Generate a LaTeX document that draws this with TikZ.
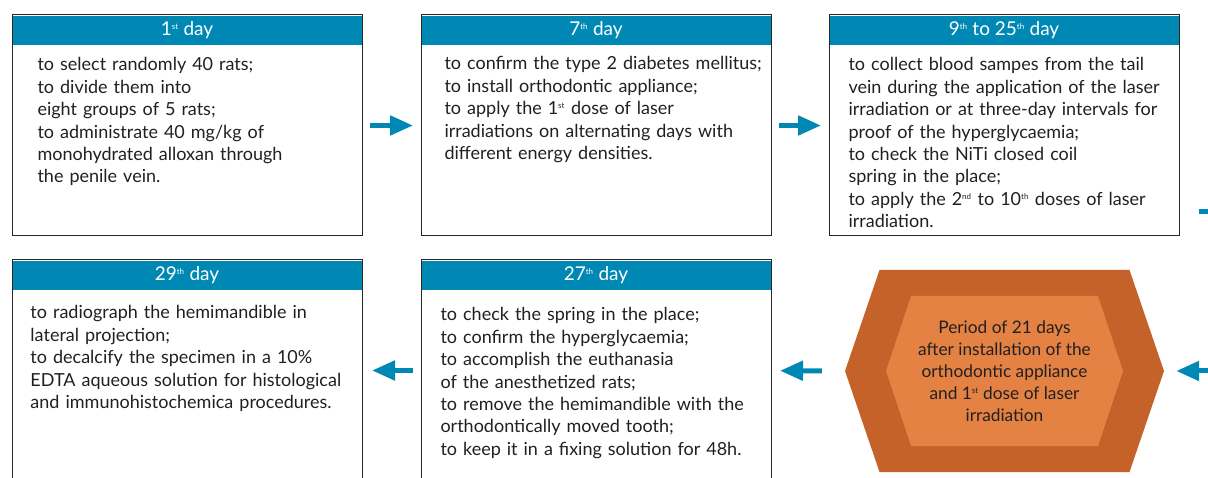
\documentclass[tikz,border=0pt]{standalone}
\usepackage{fontspec}
\setmainfont{Lato}
\usepackage{tikz}
\usetikzlibrary{positioning,arrows.meta,calc}
\definecolor{dayblue}{HTML}{0088B5}
\definecolor{hexout}{HTML}{C4622A}
\definecolor{hexin}{HTML}{E38243}
\definecolor{daytxt}{HTML}{231F20}
\newcommand{\ord}[1]{\textsuperscript{\fontsize{8}{8}\selectfont #1}}

\begin{document}
\begin{tikzpicture}[x=1pt, y=1pt,
  dayframe/.style={draw=black!85, line width=1pt, minimum width=350pt, minimum height=221pt, inner sep=0pt, outer sep=0pt},
  dayhead/.style={fill=dayblue, text=white, anchor=north, minimum width=349pt, minimum height=29pt, inner sep=0pt, font=\fontsize{19}{19}\selectfont},
  daytext/.style={anchor=base west, text width=400pt, align=left, inner sep=0pt, text=daytxt, font=\fontsize{18}{22.4}\selectfont},
  flow/.style={-{Triangle[length=23pt,width=19pt]}, color=dayblue, line width=5pt}
]
\useasboundingbox (0,0) rectangle (1208,-478);
\clip (0,0) rectangle (1208,-478);

% boxes
\node[dayframe] (d1) at (187,-125.5) {};
\node[dayframe, right=59pt of d1] (d2) {};
\node[dayframe, right=58pt of d2] (d3) {};
\node[dayframe] (d4) at (187,-370.5) {};
\node[dayframe, right=59pt of d4] (d5) {};

% headers
\node[dayhead, yshift=-0.5pt] (h1) at (d1.north) {1\ord{st} day};
\node[dayhead, yshift=-0.5pt] (h2) at (d2.north) {7\ord{th} day};
\node[dayhead, yshift=-0.5pt] (h3) at (d3.north) {9\ord{th} to 25\ord{th} day};
\node[dayhead, yshift=-0.5pt] (h4) at (d4.north) {29\ord{th} day};
\node[dayhead, yshift=-0.5pt] (h5) at (d5.north) {27\ord{th} day};

% texts
\node[daytext] (t1) at ($(h1.south west)+(25,-26)$) {to select randomly 40 rats;\\ to divide them into\\ eight groups of 5 rats;\\ to administrate 40 mg/kg of\\ monohydrated alloxan through\\ the penile vein.};
\node[daytext] (t2) at ($(h2.south west)+(23,-25)$) {to confirm the type 2 diabetes mellitus;\\ to install orthodontic appliance;\\ to apply the 1\ord{st} dose of laser\\ irradiations on alternating days with\\ different energy densities.};
\node[daytext] (t3) at ($(h3.south west)+(19,-26)$) {to collect blood sampes from the tail\\ vein during the application of the laser\\ irradiation or at three-day intervals for\\ proof of the hyperglycaemia;\\ to check the NiTi closed coil\\ spring in the place;\\ to apply the 2\ord{nd} to 10\ord{th} doses of laser\\ irradiation.};
\node[daytext] (t4) at ($(h4.south west)+(18,-29)$) {to radiograph the hemimandible in\\ lateral projection;\\ to decalcify the specimen in a 10\%\\ EDTA aqueous solution for histological\\ and immunohistochemica procedures.};
\node[daytext] (t5) at ($(h5.south west)+(19,-31)$) {to check the spring in the place;\\ to confirm the hyperglycaemia;\\ to accomplish the euthanasia\\ of the anesthetized rats;\\ to remove the hemimandible with the\\ orthodontically moved tooth;\\ to keep it in a fixing solution for 48h.};

% hexagon
\coordinate (hc) at (1004.5,-371);
\fill[hexout, shift={(hc)}] (-159.5,0) -- (-125,101) -- (125,101) -- (159.5,0) -- (125,-101) -- (-125,-101) -- cycle;
\fill[hexin, shift={(hc)}] (-118.5,0) -- (-93.5,75) -- (93.5,75) -- (118.5,0) -- (93.5,-75) -- (-93.5,-75) -- cycle;
\node[align=center, inner sep=0pt, minimum width=319pt, minimum height=202pt, text=daytxt, font=\fontsize{17.3}{22}\selectfont] (hx) at (hc) {Period of 21 days\\ after installation of the\\ orthodontic appliance\\ and 1\ord{st} dose of laser\\ irradiation};

% arrows
\coordinate (c3) at (1199,-212);
\coordinate (turn) at (1232,-212);
\path[flow, shorten <=8pt, shorten >=8pt]
  (d1) edge (d2)
  (d2) edge (d3);
\path[flow]
  (hx) edge[shorten <=23pt, shorten >=9pt] (d5)
  (d5) edge[shorten <=8pt, shorten >=10pt] (d4);
\draw[flow, shorten >=12pt] (c3) -- (turn) |- (hx.east);
\end{tikzpicture}
\end{document}
